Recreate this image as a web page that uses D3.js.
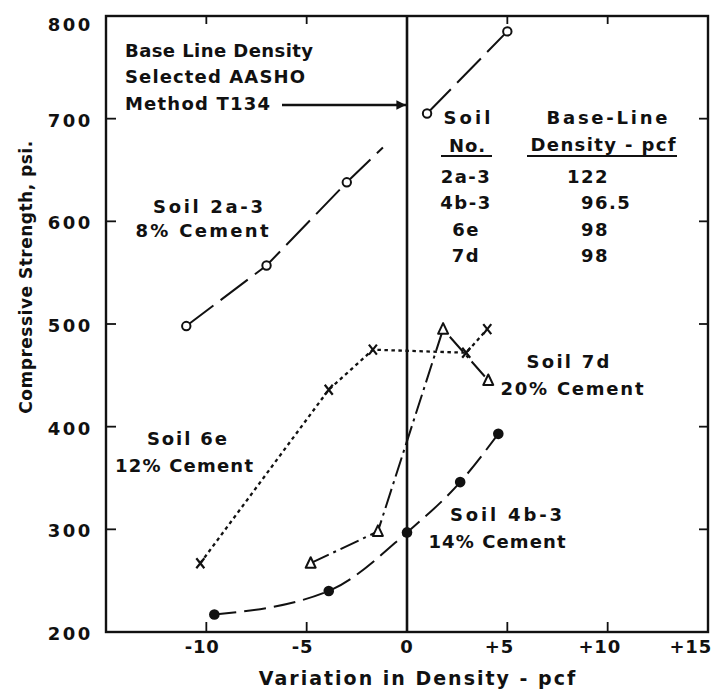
<!DOCTYPE html>
<html>
<head>
<meta charset="utf-8">
<script src="https://cdn.jsdelivr.net/npm/d3@7"></script>
<style>
  html, body { margin: 0; padding: 0; background: #fff; }
  svg { display: block; }
  text { font-family: "DejaVu Sans", sans-serif; font-weight: bold; fill: #111; }
</style>
</head>
<body>
<svg id="chart" width="713" height="693"></svg>
<script>
// Compressive strength of soil-cement vs. variation from base-line density

// Axis ticks
const xTickValues = [-10, -5, 0, 5, 10, 15];
const xTickLabels = ["-10", "-5", "0", "+5", "+10", "+15"];
const yTickValues = [200, 300, 400, 500, 600, 700, 800];

// Soil 2a-3, 8% cement (open circles)
const soil2a3X = [-11, -7, -3, 1, 5];
const soil2a3Y = [498, 557, 638, 705, 785];
// faired line through 2a-3, broken where it meets the base line
const soil2a3LineX = [-11, -7, -3, -1.2, null, 1, 5];
const soil2a3LineY = [498, 557, 638, 672, null, 705, 785];

// Soil 4b-3, 14% cement (solid circles)
const soil4b3X = [-9.6, -3.9, 0, 2.65, 4.55];
const soil4b3Y = [217, 240, 297, 346, 393];

// Soil 6e, 12% cement (crosses)
const soil6eX = [-10.3, -3.9, -1.7, 2.95, 4.0];
const soil6eY = [267, 436, 475, 472, 495];

// Soil 7d, 20% cement (triangles)
const soil7dX = [-4.8, -1.45, 1.8, 4.05];
const soil7dY = [267, 298, 495, 445];

// Base-line density table
const soilNos = ["2a-3", "4b-3", "6e", "7d"];
const baseDensities = ["122", "96.5", "98", "98"];

const svg = d3.select("#chart");
const x = d3.scaleLinear().domain([-15, 15]).range([106, 708]);
const y = d3.scaleLinear().domain([200, 800]).range([632, 16]);

const pts = (xs, ys) => xs.map((v, i) => (v == null ? null : [v, ys[i]]));

// ---- frame and ticks ----
const innerY = yTickValues.filter(v => v > 200 && v < 800);
const innerX = xTickValues.filter(v => v !== 0 && v !== 15);

const tickG = svg.append("g").attr("stroke", "#111").attr("stroke-width", 1.8);
tickG.selectAll(".tl").data(innerY).join("line")
  .attr("x1", x(-15)).attr("x2", x(-15) + 10).attr("y1", d => y(d)).attr("y2", d => y(d));
tickG.selectAll(".tr").data(innerY).join("line")
  .attr("x1", x(15)).attr("x2", x(15) - 9).attr("y1", d => y(d)).attr("y2", d => y(d));
tickG.selectAll(".tb").data(innerX).join("line")
  .attr("x1", d => x(d)).attr("x2", d => x(d)).attr("y1", y(200)).attr("y2", y(200) - 10);
tickG.selectAll(".tt").data(innerX).join("line")
  .attr("x1", d => x(d)).attr("x2", d => x(d)).attr("y1", y(800)).attr("y2", y(800) + 8);

svg.append("rect")
  .attr("x", x(-15)).attr("y", y(800))
  .attr("width", x(15) - x(-15)).attr("height", y(200) - y(800))
  .attr("fill", "none").attr("stroke", "#111").attr("stroke-width", 2.4);

// base line (zero variation)
svg.append("line")
  .attr("x1", x(0)).attr("x2", x(0)).attr("y1", y(800)).attr("y2", y(200))
  .attr("stroke", "#111").attr("stroke-width", 2.6);

// ---- tick labels ----
svg.append("g").selectAll("text").data(yTickValues).join("text")
  .attr("x", x(-15) - 13)
  .attr("y", d => y(d) + (d === 800 ? 15 : 8))
  .attr("text-anchor", "end")
  .attr("font-size", 18)
  .attr("letter-spacing", 2.6)
  .text(d => d);

const xLab = svg.append("g").selectAll("text").data(xTickValues).join("text")
  .attr("y", y(200) + 21)
  .attr("font-size", 18)
  .attr("letter-spacing", 0.8)
  .attr("text-anchor", "middle")
  .text((d, i) => xTickLabels[i]);
// centre the digits on the tick, letting a sign hang to the left
const probe = svg.append("text").attr("font-size", 18).attr("letter-spacing", 0.8);
xLab.each(function (d, i) {
  const full = this.getComputedTextLength();
  const digits = probe.text(xTickLabels[i].replace(/^[+-]/, "")).node().getComputedTextLength();
  let cx = x(d) - (full - digits) / 2;
  cx = Math.min(cx, 712 - full / 2);
  d3.select(this).attr("x", cx);
});
probe.remove();

// ---- axis titles ----
svg.append("text")
  .attr("x", 418).attr("y", 685)
  .attr("text-anchor", "middle")
  .attr("font-size", 19)
  .attr("letter-spacing", 2)
  .text("Variation in Density - pcf");

svg.append("text")
  .attr("transform", "translate(32,277) rotate(-90)")
  .attr("text-anchor", "middle")
  .attr("font-size", 17)
  .attr("letter-spacing", 0.5)
  .text("Compressive Strength, psi.");

// ---- curves ----
const line = d3.line()
  .defined(d => d != null)
  .x(d => x(d[0])).y(d => y(d[1]));

const curves = [
  { data: pts(soil2a3LineX, soil2a3LineY), dash: "34,9", w: 2, curve: d3.curveLinear },
  { data: pts(soil4b3X, soil4b3Y), dash: "22,8", w: 2, curve: d3.curveMonotoneX },
  { data: pts(soil6eX, soil6eY), dash: "3.5,3.5", w: 2.3, curve: d3.curveLinear },
  { data: pts(soil7dX, soil7dY), dash: "20,5,3,5", w: 2, curve: d3.curveLinear }
];
svg.append("g").selectAll("path").data(curves).join("path")
  .attr("d", c => line.curve(c.curve)(c.data))
  .attr("fill", "none")
  .attr("stroke", "#111")
  .attr("stroke-width", c => c.w)
  .attr("stroke-dasharray", c => c.dash);

// ---- markers ----
svg.append("g").selectAll("circle").data(pts(soil2a3X, soil2a3Y)).join("circle")
  .attr("cx", d => x(d[0])).attr("cy", d => y(d[1])).attr("r", 4.2)
  .attr("fill", "#fff").attr("stroke", "#111").attr("stroke-width", 2);

svg.append("g").selectAll("circle").data(pts(soil4b3X, soil4b3Y)).join("circle")
  .attr("cx", d => x(d[0])).attr("cy", d => y(d[1])).attr("r", 5.3)
  .attr("fill", "#111");

svg.append("g").selectAll("path").data(pts(soil6eX, soil6eY)).join("path")
  .attr("transform", d => `translate(${x(d[0])},${y(d[1])})`)
  .attr("d", "M-4,-5L4,5M4,-5L-4,5")
  .attr("stroke", "#111").attr("stroke-width", 2.2).attr("fill", "none");

svg.append("g").selectAll("path").data(pts(soil7dX, soil7dY)).join("path")
  .attr("transform", d => `translate(${x(d[0])},${y(d[1])})`)
  .attr("d", "M0,-6L5,4.5L-5,4.5Z")
  .attr("stroke", "#111").attr("stroke-width", 2).attr("fill", "#fff")
  .attr("stroke-linejoin", "round");

// ---- annotations (lettering stretched to its set width) ----
const note = (tx, ty, str, width, anchor = "middle") =>
  svg.append("text").attr("x", tx).attr("y", ty)
    .attr("text-anchor", anchor).attr("font-size", 18)
    .attr("textLength", width).attr("lengthAdjust", "spacing")
    .text(str);

note(125, 57, "Base Line Density", 188, "start");
note(125, 83, "Selected AASHO", 180, "start");
note(125, 110, "Method T134", 145, "start");

svg.append("defs").append("marker")
  .attr("id", "arrowHead").attr("viewBox", "0 0 10 10")
  .attr("refX", 10).attr("refY", 5)
  .attr("markerWidth", 5).attr("markerHeight", 4)
  .attr("markerUnits", "strokeWidth").attr("orient", "auto")
  .append("path").attr("d", "M0,0L10,5L0,10Z").attr("fill", "#111");
svg.append("line")
  .attr("x1", 282).attr("x2", x(0) - 1).attr("y1", 105).attr("y2", 105)
  .attr("stroke", "#111").attr("stroke-width", 2.4)
  .attr("marker-end", "url(#arrowHead)");

note(208, 213, "Soil 2a-3", 110);
note(202, 237, "8% Cement", 133);
note(187, 445, "Soil 6e", 80);
note(184, 472, "12% Cement", 138);
note(568, 368, "Soil 7d", 83);
note(572, 395, "20% Cement", 143);
note(506, 521, "Soil 4b-3", 112);
note(497, 548, "14% Cement", 137);

// ---- base-line density table ----
note(467, 124, "Soil", 47);
note(467, 152, "No.", 36);
note(607, 124, "Base-Line", 121);
note(603, 151, "Density - pcf", 145);
svg.append("line").attr("x1", 441).attr("x2", 492).attr("y1", 156).attr("y2", 156)
  .attr("stroke", "#111").attr("stroke-width", 2);
svg.append("line").attr("x1", 527).attr("x2", 677).attr("y1", 156).attr("y2", 156)
  .attr("stroke", "#111").attr("stroke-width", 2);

const rowY = i => 183 + i * 26.3;
svg.append("g").selectAll("text").data(soilNos).join("text")
  .attr("x", 466).attr("y", (d, i) => rowY(i))
  .attr("text-anchor", "middle").attr("font-size", 18).attr("letter-spacing", 1.5)
  .text(d => d);
// integer parts right-aligned, decimals hang after
const dens = svg.append("g").selectAll("g").data(baseDensities).join("g");
dens.append("text")
  .attr("x", 609).attr("y", (d, i) => rowY(i))
  .attr("text-anchor", "end").attr("font-size", 18).attr("letter-spacing", 1.5)
  .text(d => d.split(".")[0]);
dens.append("text")
  .attr("x", 609).attr("y", (d, i) => rowY(i))
  .attr("text-anchor", "start").attr("font-size", 18).attr("letter-spacing", 1.5)
  .text(d => (d.includes(".") ? "." + d.split(".")[1] : ""));
</script>
</body>
</html>
